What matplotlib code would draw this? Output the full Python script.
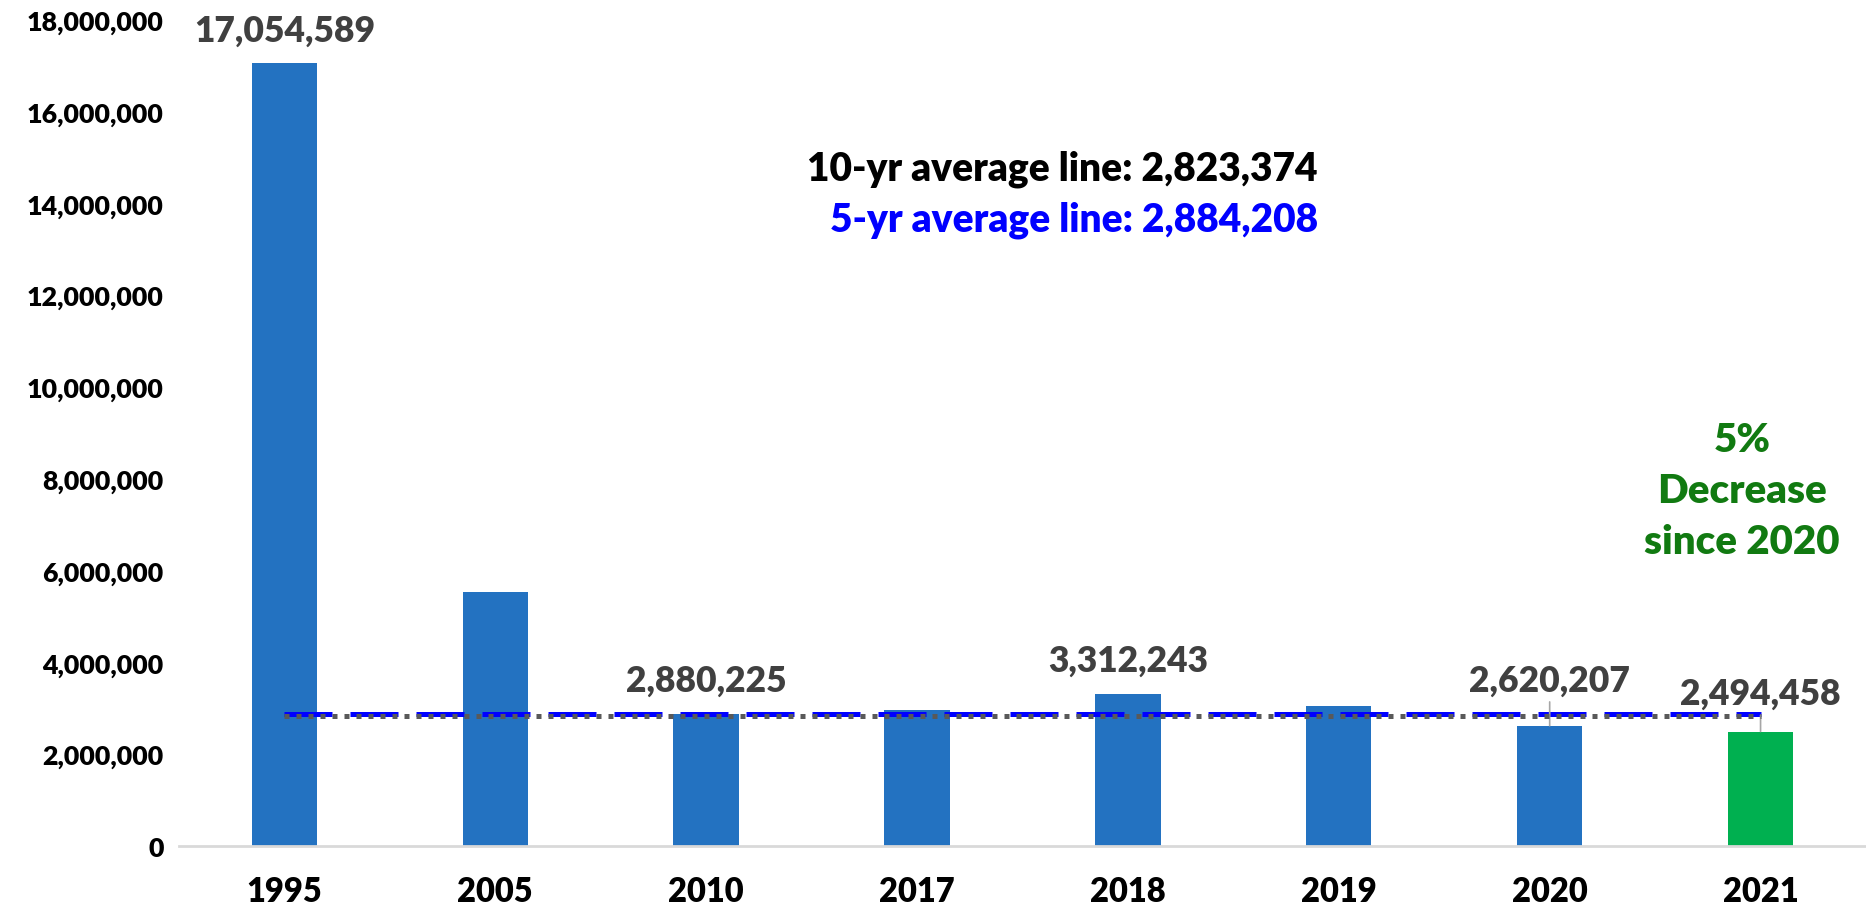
import matplotlib.pyplot as plt
from matplotlib.ticker import FuncFormatter

plt.rcParams['font.family'] = ['Lato', 'DejaVu Sans']

# yearly totals
years = ['1995', '2005', '2010', '2017', '2018', '2019', '2020', '2021']
totals = [17054589, 5530000, 2880225, 2955000, 3312243, 3040000, 2620207, 2494458]
labelled = ['1995', '2010', '2018']
leader_labels = {'2020': 3620000, '2021': 3330000}

avg_10yr = 2823374
avg_5yr = 2884208

bar_blue = '#2372C1'
bar_green = '#00B050'
label_gray = '#404040'
weight = 'heavy'

fig = plt.figure(figsize=(18.66, 9.12), dpi=100)
ax = fig.add_axes([0.0959, 0.0713, 0.9041, 0.9057])

x = list(range(len(years)))
colors = [bar_green if y == '2021' else bar_blue for y in years]
ax.bar(x, totals, width=0.31, color=colors, zorder=2)

# average lines across all years
ax.plot([x[0], x[-1]], [avg_5yr] * 2, color='#0000FF', linewidth=3.6,
        linestyle=(0, (9.6, 3.6)), dash_capstyle='butt', zorder=3)
ax.plot([x[0], x[-1]], [avg_10yr] * 2, color='#595959', linewidth=3.6,
        linestyle=(0, (1.0, 1.4)), dash_capstyle='butt', zorder=4)

# value labels
for i, (yr, v) in enumerate(zip(years, totals)):
    if yr in labelled:
        ax.annotate(f'{v:,}', (i, v), xytext=(0, 24), textcoords='offset points',
                    ha='center', va='center', fontsize=25.5, color=label_gray,
                    fontweight=weight)
    elif yr in leader_labels:
        ax.annotate(f'{v:,}', (i, v), xytext=(i, leader_labels[yr]),
                    ha='center', va='center', fontsize=25.5, color=label_gray,
                    fontweight=weight,
                    arrowprops=dict(arrowstyle='-', color='#A6A6A6', lw=1.2,
                                    shrinkA=2, shrinkB=0))

ax.text(0.675, 0.821, f'10-yr average line: {avg_10yr:,}', transform=ax.transAxes,
        ha='right', va='center', fontsize=28, color='black', fontweight=weight)
ax.text(0.675, 0.759, f'5-yr average line: {avg_5yr:,}', transform=ax.transAxes,
        ha='right', va='center', fontsize=28, color='#0000FF', fontweight=weight)
ax.text(0.9265, 0.43, '5%\nDecrease\nsince 2020', transform=ax.transAxes,
        ha='center', va='center', fontsize=29, color='#117A11', fontweight=weight,
        linespacing=1.47)

ax.set_xlim(-0.5, 7.5)
ax.set_ylim(0, 18000000)
ax.set_yticks(range(0, 18000001, 2000000))
ax.yaxis.set_major_formatter(FuncFormatter(lambda v, p: f'{int(v):,}'))
ax.set_xticks(x)
ax.set_xticklabels(years)
ax.tick_params(axis='y', length=0, pad=11, labelsize=19.3)
ax.tick_params(axis='x', length=0, pad=21, labelsize=23.5)
for lbl in ax.get_xticklabels() + ax.get_yticklabels():
    lbl.set_fontweight(weight)

for side in ['top', 'right', 'left']:
    ax.spines[side].set_visible(False)
ax.spines['bottom'].set_color('#D9D9D9')
ax.spines['bottom'].set_linewidth(2)

fig.savefig('out.png', dpi=100)
